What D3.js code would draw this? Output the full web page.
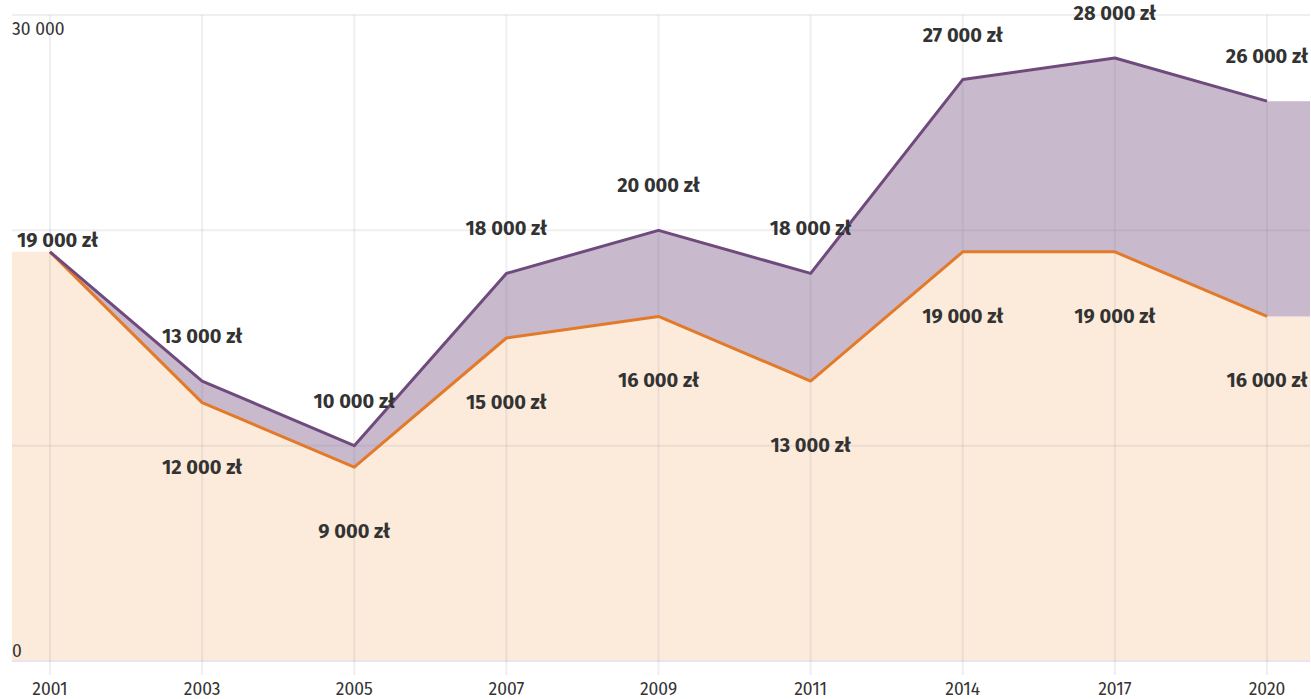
<!DOCTYPE html>
<html><head><meta charset="utf-8">
<script src="https://cdn.jsdelivr.net/npm/d3@7"></script>
<style>
html,body{margin:0;padding:0;background:#fff;}
svg{display:block;font-family:"Fira Sans","Open Sans","Noto Sans",sans-serif;}
</style></head>
<body>
<svg id="chart" width="1311" height="699"></svg>
<script>
const years = ["2001","2003","2005","2007","2009","2011","2014","2017","2020"];
const upperValues = [19000,13000,10000,18000,20000,18000,27000,28000,26000];
const lowerValues = [19000,12000,9000,15000,16000,13000,19000,19000,16000];
const yTickValues = [0,10000,20000,30000];
const yTickLabels = ["0","","","30 000"];

(function(){
const mLeft = 12, mRight = 1310, mTop = 15, mBottom = 661;
const svg = d3.select("#chart");
const x = d3.scalePoint().domain(years).range([50,1267]);
const y = d3.scaleLinear().domain([0,30000]).range([mBottom, mTop]);
const fmt = v => d3.format(",")(v).replace(/,/g," ") + " zł";

const data = years.map((yr,i)=>({yr, up:upperValues[i], lo:lowerValues[i]}));
const ext = [{px:mLeft, up:data[0].up, lo:data[0].lo}]
  .concat(data.map(d=>({px:x(d.yr), up:d.up, lo:d.lo})))
  .concat([{px:mRight, up:data[data.length-1].up, lo:data[data.length-1].lo}]);

svg.append("path").datum(ext)
  .attr("d", d3.area().x(d=>d.px).y0(y(0)).y1(d=>y(d.lo)))
  .attr("fill","#fcebdb");
svg.append("path").datum(ext)
  .attr("d", d3.area().x(d=>d.px).y0(d=>y(d.lo)).y1(d=>y(d.up)))
  .attr("fill","#c8b9cd");

const g = svg.append("g");
yTickValues.forEach(v=>{
  g.append("line").attr("x1",mLeft).attr("x2",mRight).attr("y1",y(v)).attr("y2",y(v))
   .attr("stroke", v===0 ? "#e6e6ec" : "rgba(120,120,150,0.12)").attr("stroke-width",2);
});
years.forEach(yr=>{
  g.append("line").attr("x1",x(yr)).attr("x2",x(yr)).attr("y1",mTop).attr("y2",mBottom+14)
   .attr("stroke","rgba(120,120,150,0.12)").attr("stroke-width",2);
});

svg.append("path").datum(data)
  .attr("d", d3.line().x(d=>x(d.yr)).y(d=>y(d.lo)))
  .attr("fill","none").attr("stroke","#e27a2a").attr("stroke-width",3).attr("stroke-linejoin","round");
svg.append("path").datum(data)
  .attr("d", d3.line().x(d=>x(d.yr)).y(d=>y(d.up)))
  .attr("fill","none").attr("stroke","#6f4a7c").attr("stroke-width",3).attr("stroke-linejoin","round");

yTickValues.forEach((v,i)=>{
  if(!yTickLabels[i]) return;
  svg.append("text").attr("x",mLeft).attr("y", v===0 ? y(v)-4 : y(v)+20)
    .attr("font-size",17.5).attr("fill","#333").text(yTickLabels[i]);
});
years.forEach(yr=>{
  svg.append("text").attr("x",x(yr)).attr("y",695).attr("text-anchor","middle")
    .attr("font-size",17.5).attr("fill","#333").text(yr);
});

const lab = svg.append("g").attr("font-size",20).attr("font-weight","bold").attr("fill","#333");
data.forEach(d=>{
  const px = x(d.yr);
  if(d.up===d.lo){
    lab.append("text").attr("x", mLeft+5).attr("y", y(d.up)-5)
      .attr("text-anchor","start").text(fmt(d.up));
  } else {
    lab.append("text").attr("x",px).attr("y",y(d.up)-38).attr("text-anchor","middle").text(fmt(d.up));
    lab.append("text").attr("x",px).attr("y",y(d.lo)+71).attr("text-anchor","middle").text(fmt(d.lo));
  }
});
})();
</script>
</body></html>
